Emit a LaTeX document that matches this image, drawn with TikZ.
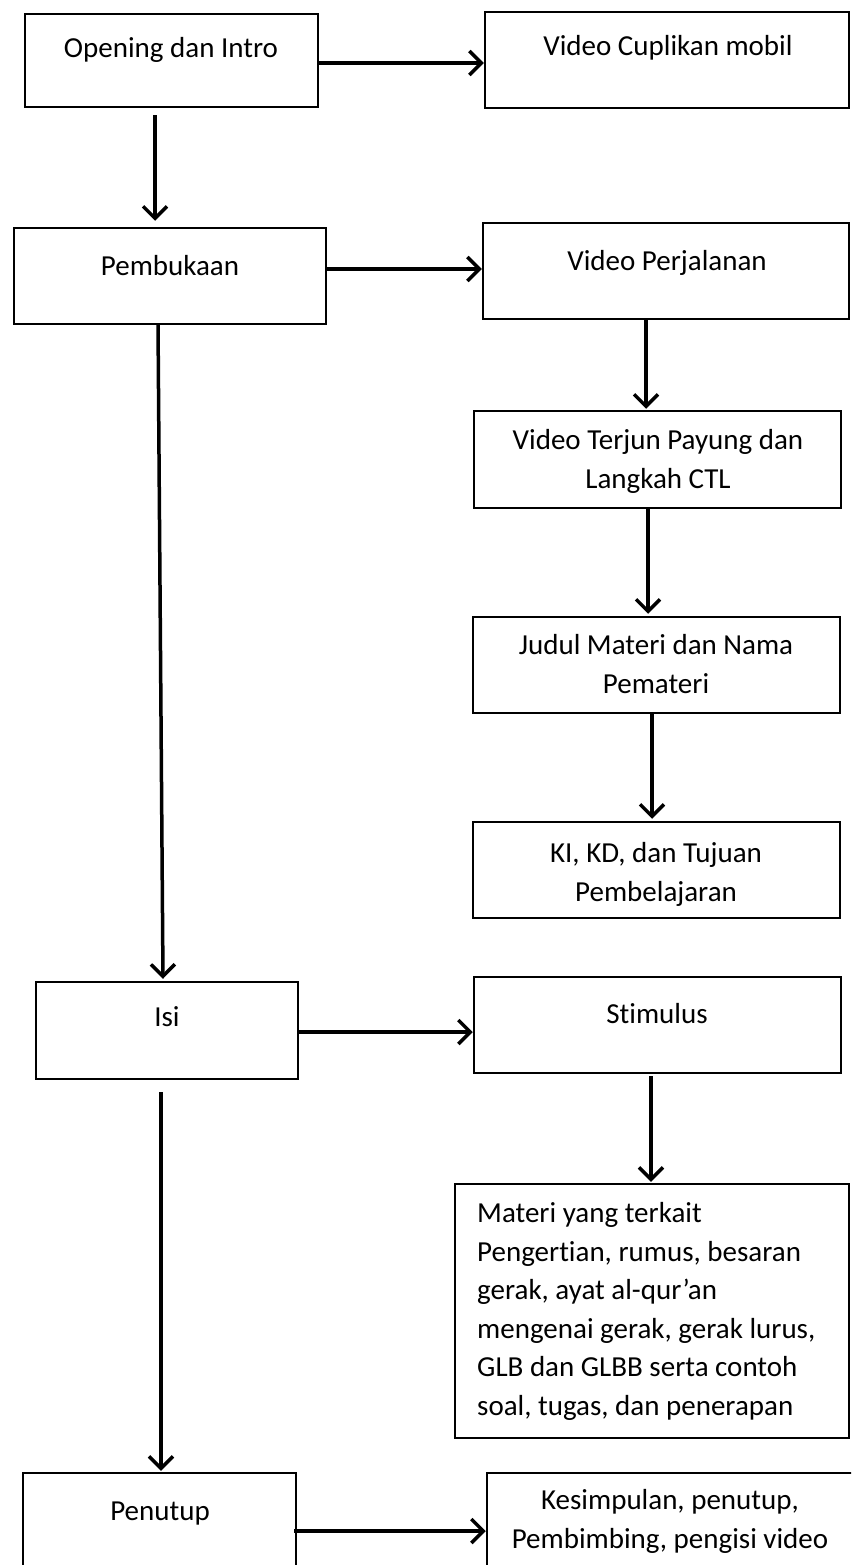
\documentclass[tikz,border=0pt]{standalone}
\usepackage{fontspec}
\setmainfont{Carlito}[Ligatures=NoCommon]
\usetikzlibrary{arrows.meta,calc}
\begin{document}
\begin{tikzpicture}[x=1pt,y=-1pt,
  box/.style={draw, line width=2.5pt, rectangle, inner sep=0pt},
  txt/.style={font=\fontsize{29}{38.5}\selectfont, inner sep=0pt, align=center, anchor=base},
  arr/.style={line width=3.5pt, -{Straight Barb[length=12pt,width=24pt,line width=3.5pt]}}]
\clip (0,0) rectangle (851,1565);
\fill[white] (0,0) rectangle (851,1565);
% boxes
\node[box, minimum width=293pt, minimum height=93pt] (b1) at (171.5,60.5) {};
\node[box, minimum width=364pt, minimum height=96pt] (b2) at (667,60) {};
\node[box, minimum width=312pt, minimum height=96pt] (b3) at (170,276) {};
\node[box, minimum width=366pt, minimum height=96pt] (b4) at (666,271) {};
\node[box, minimum width=367pt, minimum height=97pt] (b5) at (657.5,459.5) {};
\node[box, minimum width=367pt, minimum height=96pt] (b6) at (656.5,665) {};
\node[box, minimum width=367pt, minimum height=96pt] (b7) at (656.5,870) {};
\node[box, minimum width=262pt, minimum height=97pt] (isi) at (167,1030.5) {};
\node[box, minimum width=367pt, minimum height=96pt] (stim) at (657.5,1025) {};
\node[box, minimum width=394pt, minimum height=254pt] (mat) at (652,1311) {};
\node[box, minimum width=273pt, minimum height=97pt] (pen) at (159.5,1521.5) {};
\node[box, minimum width=368pt, minimum height=97pt] (kes) at (671,1521.5) {};
% texts
\node[txt] (t1) at (171,58) {Opening dan Intro};
\node[txt] (t2) at (668,56) {Video Cuplikan mobil};
\node[txt] (t3) at (170,275) {Pembukaan};
\node[txt] (t4) at (667,270) {Video Perjalanan};
\node[txt] (t5) at (658,488) {Video Terjun Payung dan\\Langkah CTL};
\node[txt] (t6) at (656,693) {Judul Materi dan Nama\\Pemateri};
\node[txt] (t7) at (656,901) {KI, KD, dan Tujuan\\Pembelajaran};
\node[txt] (t8) at (167,1026) {Isi};
\node[txt] (t9) at (657,1023) {Stimulus};
\node[txt, align=left, anchor=base west] (t10) at (477,1415) {Materi yang terkait\\Pengertian, rumus, besaran\\gerak, ayat al-qur’an\\mengenai gerak, gerak lurus,\\GLB dan GLBB serta contoh\\soal, tugas, dan penerapan};
\node[txt] (t11) at (160,1520) {Penutup};
\node[txt] (t12) at (670,1548) {Kesimpulan, penutup,\\Pembimbing, pengisi video};
% arrows
\draw[arr] ($(b1.east)+(0,2.5)$) -- ($(b2.west)+(0,3)$);
\draw[arr] ($(b1.south)+(-16.5,7)$) -- ($(b3.north)+(-15,-6)$);
\draw[arr] ($(b3.east)+(0,-7)$) -- ($(b4.west)+(0,-2)$);
\draw[arr] ($(b3.south)+(-12,-2)$) -- ($(isi.north)+(-4,-2)$);
\draw[arr] ($(b4.south)+(-20,0)$) -- ($(b5.north)+(-11.5,-1)$);
\draw[arr] ($(b5.south)+(-9.5,0)$) -- ($(b6.north)+(-8.5,-2)$);
\draw[arr] ($(b6.south)+(-4.5,0)$) -- ($(b7.north)+(-4.5,-2)$);
\draw[arr] ($(isi.east)+(0,1.5)$) -- ($(stim.west)+(0,7)$);
\draw[arr] ($(stim.south)+(-6.5,2)$) -- ($(mat.north)+(-1,-1)$);
\draw[arr] ($(isi.south)+(-6,12)$) -- ($(pen.north)+(1.5,-1)$);
\draw[arr] ($(pen.east)+(-3,9.5)$) -- ($(kes.west)+(0,9.5)$);
\end{tikzpicture}
\end{document}
